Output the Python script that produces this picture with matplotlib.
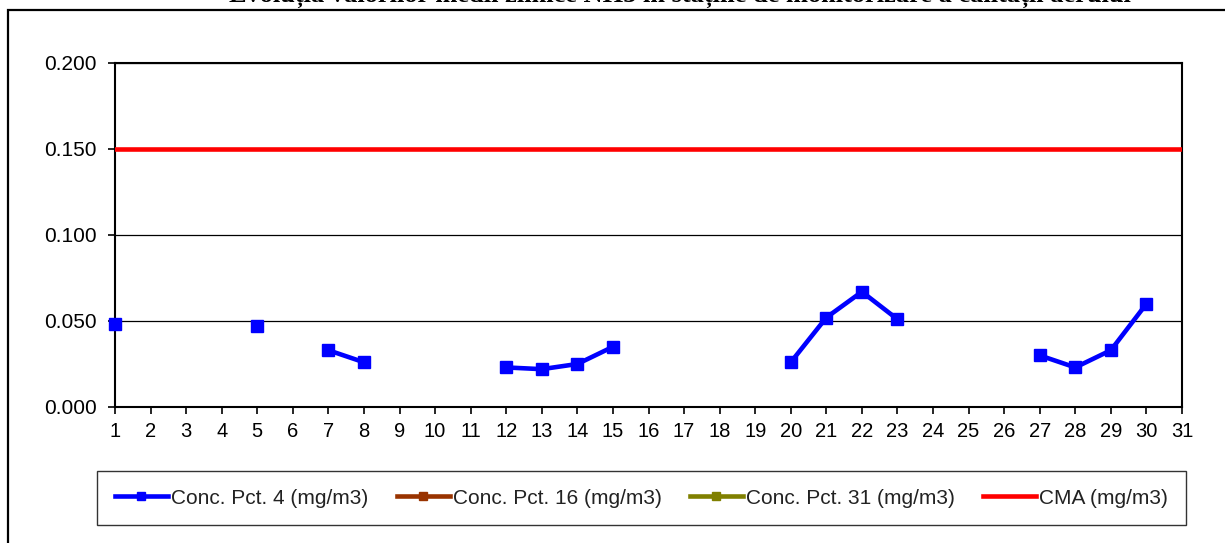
import numpy as np
import matplotlib
matplotlib.use("Agg")
import matplotlib.pyplot as plt
from matplotlib.patches import Rectangle

days = list(range(1, 32))
nan = np.nan
pct4 = [0.048, nan, nan, nan, 0.047, nan, 0.033, 0.026, nan, nan,
        nan, 0.023, 0.022, 0.025, 0.035, nan, nan, nan, nan, 0.026,
        0.052, 0.067, 0.051, nan, nan, nan, 0.030, 0.023, 0.033, 0.060, nan]
pct16 = [nan] * 31
pct31 = [nan] * 31
cma = [0.15] * 31

yticks = [0.0, 0.05, 0.1, 0.15, 0.2]
ytick_labels = ["0.000", "0.050", "0.100", "0.150", "0.200"]

labels = ["Conc. Pct. 4 (mg/m3)", "Conc. Pct. 16 (mg/m3)",
          "Conc. Pct. 31 (mg/m3)", "CMA (mg/m3)"]
title = "Evoluția valorilor medii zilnice NH3 în stațiile de monitorizare a calității aerului"

plt.rcParams['font.family'] = ['Liberation Sans', 'DejaVu Sans']
txtc = "#222222"

W, H = 1225, 543
fig = plt.figure(figsize=(W / 100, H / 100), dpi=100)
ax = fig.add_axes([115 / W, 1 - 407 / H, (1182 - 115) / W, (407 - 63) / H])

ax.plot(days, pct4, color="#0000FF", lw=3.3, marker="s", ms=9, label=labels[0], zorder=4, clip_on=False)
ax.plot(days, pct16, color="#993300", lw=3.3, marker="s", ms=9, label=labels[1])
ax.plot(days, pct31, color="#808000", lw=3.3, marker="s", ms=9, label=labels[2])
ax.plot(days, cma, color="#FF0000", lw=3.3, label=labels[3], zorder=3)

ax.set_xlim(1, 31)
ax.set_ylim(0, 0.2)
ax.set_xticks(days)
ax.set_xticklabels([str(d) for d in days], fontsize=14.5, color=txtc)
ax.set_yticks(yticks)
ax.set_yticklabels(ytick_labels, fontsize=15, color=txtc)
ax.yaxis.grid(True, color="black", lw=0.9)
ax.set_axisbelow(True)
for s in ax.spines.values():
    s.set_linewidth(1.5)
    s.set_color("black")
ax.tick_params(axis="both", direction="out", length=5, width=1.2, colors="black")
ax.tick_params(axis="x", pad=6)
ax.tick_params(axis="y", pad=8)

# outer frame
fig.patches.append(Rectangle((8 / W, -0.1), 1.2, 1 - 10 / H + 0.1, transform=fig.transFigure,
                             fill=False, edgecolor="black", lw=1.6))

fig.text(680 / W, 1 - 2 / H, title, ha="center", va="baseline", fontsize=19,
         fontweight="bold", family=["Liberation Serif", "DejaVu Serif"])

handles, labs = ax.get_legend_handles_labels()
leg = fig.legend(handles, labs, loc="center", ncol=4,
                 bbox_to_anchor=(100 / W, 1 - 525 / H, 1083 / W, 54 / H),
                 fontsize=15, frameon=True, fancybox=False, edgecolor="black",
                 handlelength=2.55, handletextpad=0.15, columnspacing=1.35,
                 borderpad=0.85, markerscale=0.65, labelcolor=txtc)
leg.get_frame().set_linewidth(1.0)

fig.savefig("out.png", dpi=100)
